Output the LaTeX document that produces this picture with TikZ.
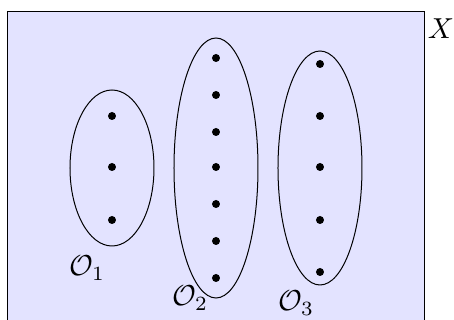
\documentclass[tikz,border=0pt]{standalone}
\usetikzlibrary{shapes.geometric}
\begin{document}
\begin{tikzpicture}[x=0.45pt,y=-0.45pt,
  pt/.style={circle,fill=black,inner sep=0pt,minimum size=3.6pt},
  orbit/.style={draw=black,line width=0.45pt},
  lbl/.style={inner sep=0pt,scale=1.3}]
\clip (0,0) rectangle (454,320);
\draw[fill=blue!11,line width=0.45pt] (8,12) rectangle (425,345);
\node[lbl] (X) at (441,29) {$X$};
% orbit 1
\draw[orbit] (112,168) ellipse [x radius=42,y radius=78];
\foreach \y [count=\i] in {116,167,220} \node[pt] (a\i) at (112,\y) {};
% orbit 2
\draw[orbit] (216,168) ellipse [x radius=42,y radius=130];
\foreach \y [count=\i] in {58,95,132,167,204,241,278} \node[pt] (b\i) at (216,\y) {};
% orbit 3
\draw[orbit] (320,168) ellipse [x radius=42,y radius=117];
\foreach \y [count=\i] in {64,116,167,220,272} \node[pt] (c\i) at (320,\y) {};
\node[lbl] (o1) at (87,268) {$\mathcal{O}_1$};
\node[lbl] (o2) at (190,298) {$\mathcal{O}_2$};
\node[lbl] (o3) at (296,303) {$\mathcal{O}_3$};
\end{tikzpicture}
\end{document}
